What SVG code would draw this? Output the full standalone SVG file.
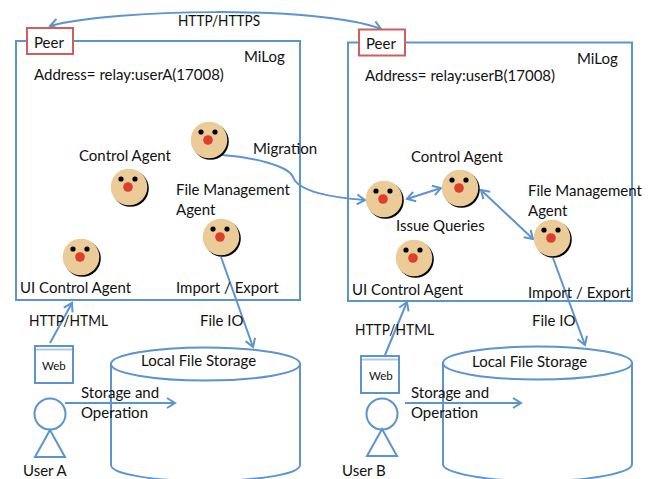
<svg xmlns="http://www.w3.org/2000/svg" width="658" height="479" viewBox="0 0 658 479">
<style>
text{font-family:"Lato","Carlito","Liberation Sans",sans-serif;font-size:15px;fill:#111}
.box{fill:none;stroke:#5b94cf;stroke-width:2}
.peer{fill:#fff;stroke:#cf5f5c;stroke-width:2}
.cyl{fill:#fff;stroke:#5b94cf;stroke-width:2}
.con{fill:none;stroke:#5b94cf;stroke-width:2}
.end{marker-end:url(#a)}
.both{marker-start:url(#s);marker-end:url(#a)}
.face{fill:#ebcb98}.shadow{fill:#000}.eye{fill:#000}.nose{fill:#dc3f2b}
</style>
<defs>
<marker id="a" markerUnits="userSpaceOnUse" markerWidth="14" markerHeight="14" refX="11" refY="7" orient="auto"><path d="M3 2 L11 7 L3 12" fill="none" stroke="#5b94cf" stroke-width="2"/></marker>
<marker id="s" markerUnits="userSpaceOnUse" markerWidth="14" markerHeight="14" refX="3" refY="7" orient="auto"><path d="M11 2 L3 7 L11 12" fill="none" stroke="#5b94cf" stroke-width="2"/></marker>
<g id="f"><circle class="shadow" cx="1.5" cy="1.5" r="18.3"/><circle class="face" r="18.3"/><circle class="eye" cx="-8" cy="-8" r="2.6"/><circle class="eye" cx="6" cy="-8" r="2.6"/><circle class="nose" cx="-1" cy="0" r="4.8"/></g>
</defs>

<g id="milog-a"><rect class="box" x="16" y="41" width="284" height="259"/><text x="244" y="62">MiLog</text><text x="34" y="80">Address= relay:userA(17008)</text></g>
<g id="milog-b"><rect class="box" x="348" y="42.500" width="284" height="258.500"/><text x="577" y="64">MiLog</text><text x="365" y="81">Address= relay:userB(17008)</text></g>

<g id="storage-a"><path class="cyl" d="M111 364 V465 C111 474 153 481 205.500 481 C258 481 300 474 300 465 V364 Z"/><ellipse class="cyl" cx="205.500" cy="364" rx="94.500" ry="16.500"/><text x="141" y="366">Local File Storage</text></g>
<g id="storage-b"><path class="cyl" d="M443 363 V464 C443 473 485 481 537.500 481 C590 481 632 473 632 464 V363 Z"/><ellipse class="cyl" cx="537.500" cy="363" rx="94.500" ry="16.500"/><text x="472" y="367">Local File Storage</text></g>

<g id="connectors">
<path class="con both" d="M50 26 C110 9 320 5 381 29"/>
<path class="con end" d="M50 343 L72 303"/>
<path class="con end" d="M221 257 L253 347"/>
<path class="con end" d="M65 403 H175"/>
<path class="con end" d="M385 355 L407 302"/>
<path class="con end" d="M553 258 L585 345"/>
<path class="con end" d="M405 403 H521"/>
<path class="con end" d="M222 155 C250 157 288 165 293 177 C298 192 335 198 365 200"/>
<path class="con both" d="M407 199 L441 188"/>
<path class="con both" d="M481 190 L533 239"/>
</g>

<g id="peer-a"><rect class="peer" x="27" y="28" width="46" height="26"/><text x="34" y="48">Peer</text></g>
<g id="peer-b"><rect class="peer" x="359" y="29.500" width="46" height="26"/><text x="366" y="49">Peer</text></g>

<g id="agent-migration-a"><use href="#f" x="209" y="140"/></g>
<g id="agent-control-a"><use href="#f" x="129" y="187"/><text x="79" y="161">Control Agent</text></g>
<g id="agent-file-a"><use href="#f" x="221" y="237"/><text x="176" y="195">File Management</text><text x="176" y="215">Agent</text><text x="176" y="293">Import / Export</text></g>
<g id="agent-ui-a"><use href="#f" x="81" y="257"/><text x="20" y="293">UI Control Agent</text></g>
<g id="agent-query-b"><use href="#f" x="384" y="199"/><text x="396" y="231">Issue Queries</text></g>
<g id="agent-control-b"><use href="#f" x="460" y="188"/><text x="411" y="162">Control Agent</text></g>
<g id="agent-file-b"><use href="#f" x="552" y="238"/><text x="528" y="196">File Management</text><text x="528" y="216">Agent</text><text x="528" y="298">Import / Export</text></g>
<g id="agent-ui-b"><use href="#f" x="414" y="258"/><text x="352" y="295">UI Control Agent</text></g>

<g id="web-a"><rect class="box" x="35" y="346" width="38" height="37"/><path class="con" d="M35 349.500 H73" stroke-opacity=".5"/><text x="42" y="370" style="font-size:11.500px">Web</text></g>
<g id="web-b"><rect class="box" x="361" y="356" width="38" height="37"/><path class="con" d="M361 359.500 H399" stroke-opacity=".5"/><text x="369" y="380" style="font-size:11.500px">Web</text></g>

<g id="user-a"><circle class="box" cx="50" cy="414" r="15.500"/><path class="box" d="M50 430 L35 457 H65 Z"/><text x="23" y="476">User A</text></g>
<g id="user-b"><circle class="box" cx="382" cy="414" r="15.500"/><path class="box" d="M382 429 L367 456 H397 Z"/><text x="342" y="476">User B</text></g>

<g id="labels">
<text x="178" y="26" textLength="82" lengthAdjust="spacingAndGlyphs">HTTP/HTTPS</text>
<text x="253" y="154">Migration</text>
<text x="29" y="326" textLength="79" lengthAdjust="spacingAndGlyphs">HTTP/HTML</text>
<text x="200" y="326">File IO</text>
<text x="355" y="335" textLength="79" lengthAdjust="spacingAndGlyphs">HTTP/HTML</text>
<text x="532" y="326">File IO</text>
<text x="81" y="398">Storage and</text>
<text x="81" y="418">Operation</text>
<text x="411" y="398">Storage and</text>
<text x="411" y="418">Operation</text>
</g>
</svg>
